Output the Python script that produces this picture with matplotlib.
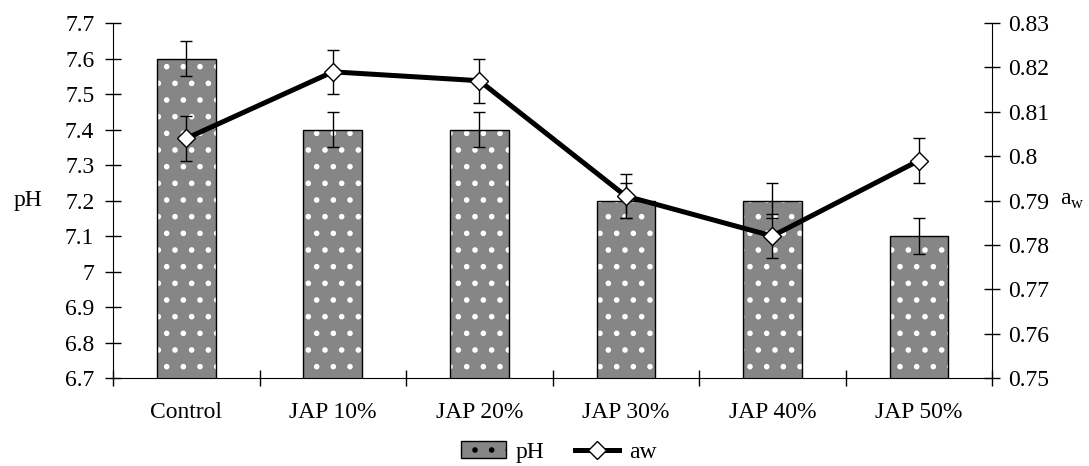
import matplotlib
matplotlib.use('Agg')
import matplotlib.pyplot as plt
from matplotlib.lines import Line2D
from matplotlib.patches import Patch
import numpy as np

# data
categories = ['Control', 'JAP 10%', 'JAP 20%', 'JAP 30%', 'JAP 40%', 'JAP 50%']
ph_values = [7.6, 7.4, 7.4, 7.2, 7.2, 7.1]
ph_errors = [0.05, 0.05, 0.05, 0.05, 0.05, 0.05]
aw_values = [0.804, 0.819, 0.817, 0.791, 0.782, 0.799]
aw_errors = [0.005, 0.005, 0.005, 0.005, 0.005, 0.005]

plt.rcParams['font.family'] = ['Liberation Serif', 'DejaVu Serif']
plt.rcParams['font.size'] = 17
plt.rcParams['hatch.linewidth'] = 1.6

fig = plt.figure(figsize=(10.89, 4.66), dpi=100)
ax = fig.add_axes([0.1038, 0.1888, 0.8072, 0.7618])
x = np.arange(len(categories))

# patterned bars: fill + white hatch, then a black outline on top
ax.bar(x, ph_values, width=0.4, bottom=0, color='#868686', edgecolor='white',
       linewidth=0, hatch='.', zorder=2)
ax.bar(x, ph_values, width=0.4, bottom=0, fill=False, edgecolor='black',
       linewidth=1.0, zorder=3)
ax.errorbar(x, ph_values, yerr=ph_errors, fmt='none', ecolor='black',
            elinewidth=1.0, capsize=4, capthick=1.0, zorder=4)

ax.set_ylim(6.7, 7.7)
ax.set_yticks(np.arange(6.7, 7.71, 0.1))
ax.set_yticklabels(['6.7', '6.8', '6.9', '7', '7.1', '7.2', '7.3', '7.4', '7.5', '7.6', '7.7'])
ax.set_xlim(-0.5, 5.5)
ax.set_xticks(x)
ax.set_xticklabels(categories)
ax.set_xticks(np.arange(-0.5, 5.6, 1.0), minor=True)
ax.tick_params(axis='x', which='major', length=0, pad=17)
ax.tick_params(axis='x', which='minor', direction='inout', length=11, width=1.0)
ax.tick_params(axis='y', direction='inout', length=11, width=1.0, pad=8)
ax.spines['top'].set_visible(False)
ax.spines['right'].set_visible(False)
ax.set_ylabel('pH', rotation=0, ha='center', va='center')
ax.yaxis.set_label_coords(-0.097, 0.5)

ax2 = ax.twinx()
ax2.errorbar(x, aw_values, yerr=aw_errors, fmt='none', ecolor='black',
             elinewidth=1.0, capsize=4, capthick=1.0, zorder=5)
ax2.plot(x, aw_values, color='black', linewidth=3.6, marker='D', markersize=9.5,
         markerfacecolor='white', markeredgecolor='black', markeredgewidth=1.0, zorder=6)
ax2.set_ylim(0.75, 0.83)
ax2.set_yticks(np.arange(0.75, 0.8301, 0.01))
ax2.set_yticklabels(['0.75', '0.76', '0.77', '0.78', '0.79', '0.8', '0.81', '0.82', '0.83'])
ax2.tick_params(axis='y', direction='inout', length=11, width=1.0, pad=6)
ax2.spines['top'].set_visible(False)
ax2.spines['left'].set_visible(False)
ax2.spines['bottom'].set_visible(False)
ax2.set_ylabel('a$_\\mathregular{w}$', rotation=0, ha='left', va='center', fontsize=17)
ax2.yaxis.set_label_coords(1.077, 0.5)

handles = [Patch(facecolor='#868686', edgecolor='black', hatch='.', label='pH'),
           Line2D([0], [0], color='black', linewidth=3.6, marker='D', markersize=9.5,
                  markerfacecolor='white', markeredgecolor='black', label='aw')]
fig.legend(handles=handles, loc='center', bbox_to_anchor=(0.513, 0.03), ncol=2,
           frameon=False, handlelength=1.9, columnspacing=1.3, handletextpad=0.4)

fig.savefig('out.png', dpi=100)
